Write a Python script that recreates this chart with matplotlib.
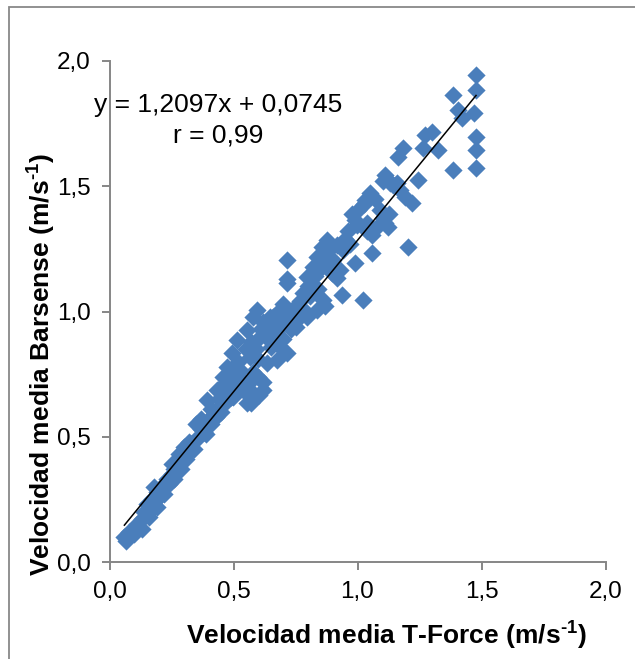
import matplotlib
matplotlib.use("Agg")
import matplotlib.pyplot as plt
import numpy as np
from matplotlib.patches import Rectangle

plt.rcParams['font.family'] = ['Liberation Sans', 'DejaVu Sans']
plt.rcParams['mathtext.fontset'] = 'custom'
plt.rcParams['mathtext.rm'] = 'Liberation Sans'
plt.rcParams['mathtext.bf'] = 'Liberation Sans:bold'

# (T-Force, Barsense) mean velocity pairs
points = [
    # low band
    (0.06,0.10),(0.065,0.085),(0.08,0.12),(0.10,0.11),(0.11,0.15),(0.12,0.14),(0.13,0.13),(0.13,0.17),
    (0.14,0.20),(0.15,0.19),(0.15,0.23),(0.16,0.18),(0.17,0.21),(0.17,0.25),(0.18,0.24),(0.18,0.30),
    (0.19,0.22),(0.19,0.28),(0.20,0.26),(0.21,0.29),(0.22,0.27),(0.22,0.31),(0.23,0.33),(0.24,0.31),
    (0.25,0.35),(0.25,0.39),(0.26,0.33),(0.26,0.37),(0.27,0.36),(0.28,0.40),(0.28,0.43),(0.29,0.37),
    (0.30,0.42),(0.30,0.46),(0.31,0.41),(0.32,0.44),(0.32,0.48),(0.33,0.47),(0.34,0.45),(0.35,0.49),
    (0.35,0.55),(0.36,0.50),(0.37,0.53),(0.37,0.57),(0.38,0.52),(0.39,0.51),(0.40,0.57),(0.41,0.55),
    (0.41,0.61),(0.42,0.59),(0.43,0.58),(0.44,0.62),(0.44,0.65),(0.45,0.60),(0.46,0.68),(0.47,0.64),
    (0.47,0.72),(0.48,0.70),(0.49,0.66),(0.50,0.75),(0.50,0.69),
    # middle
    (0.432,0.687),(0.392,0.647),(0.459,0.740),(0.473,0.780),(0.493,0.833),(0.499,0.660),(0.513,0.886),
    (0.526,0.766),(0.540,0.727),(0.540,0.687),(0.553,0.926),(0.553,0.634),(0.567,0.820),(0.571,0.633),
    (0.580,0.979),(0.580,0.673),(0.593,1.006),(0.600,0.740),(0.604,0.666),(0.607,0.899),(0.620,0.687),
    (0.634,0.793),(0.647,0.979),(0.674,0.806),(0.688,0.859),(0.701,0.953),(0.714,0.833),(0.714,1.112),
    (0.717,1.206),(0.717,1.129),(0.755,0.966),(0.781,1.073),(0.795,0.979),(0.835,1.006),
    (0.52,0.80),(0.55,0.85),(0.57,0.88),(0.59,0.85),(0.61,0.93),(0.62,0.96),(0.63,0.90),(0.64,0.94),
    (0.65,0.86),(0.66,0.98),(0.67,0.92),(0.68,1.00),(0.69,0.96),(0.70,1.03),(0.70,0.89),(0.72,0.98),
    (0.73,0.93),(0.74,1.01),(0.75,0.94),(0.76,1.00),(0.77,1.04),(0.78,1.01),(0.80,1.10),(0.81,1.06),
    (0.83,1.14),(0.84,1.09),(0.85,1.17),(0.86,1.20),(0.88,1.24),(0.89,1.19),(0.66,0.90),(0.60,0.81),
    (0.58,0.76),(0.56,0.71),(0.51,0.72),(0.62,0.72),
    # upper middle
    (0.795,1.139),(0.808,1.106),(0.822,1.179),(0.835,1.219),(0.856,1.259),(0.876,1.285),(0.896,1.152),
    (0.902,1.206),(0.916,1.265),(0.916,1.133),(0.929,1.166),(0.943,1.245),(0.862,1.046),(0.869,1.022),
    (0.936,1.066),(0.990,1.192),(1.023,1.046),(1.057,1.232),(0.95,1.29),(0.96,1.32),(0.97,1.27),
    # upper
    (0.979,1.388),(0.990,1.365),(1.003,1.405),(1.028,1.43),(1.030,1.445),(1.050,1.472),(1.037,1.352),
    (0.997,1.345),(1.037,1.32),(1.057,1.305),(1.077,1.339),(1.091,1.405),(1.104,1.372),(1.110,1.354),
    (1.124,1.339),(1.126,1.388),(1.111,1.545),(1.131,1.512),(1.102,1.522),(1.124,1.525),(1.143,1.505),
    (1.158,1.512),(1.171,1.485),(1.192,1.458),(1.219,1.432),(1.245,1.525),(1.205,1.259),(1.07,1.45),
    (1.165,1.618),(1.185,1.651),(1.265,1.651),(1.272,1.705),(1.299,1.718),(1.326,1.645),(1.386,1.563),
    (1.386,1.864),(1.406,1.804),(1.420,1.771),(1.470,1.794),(1.478,1.944),(1.478,1.884),(1.478,1.695),
    (1.478,1.645),(1.478,1.572),
]
vel_tforce = [p[0] for p in points]
vel_barsense = [p[1] for p in points]

slope = 1.2097
intercept = 0.0745
eq_text = "y = 1,2097x + 0,0745"
r_text = "r = 0,99"
ticks = [0.0, 0.5, 1.0, 1.5, 2.0]
tick_labels = ["0,0", "0,5", "1,0", "1,5", "2,0"]

fig = plt.figure(figsize=(6.35, 6.59), dpi=100)
ax = fig.add_axes([109.5/635, 1-562/659, 496/635, 501/659])

ax.scatter(vel_tforce, vel_barsense, marker='D', s=86, color='#4A7EBB', linewidths=0, zorder=2)
xl = np.array([min(vel_tforce), max(vel_tforce)])
ax.plot(xl, slope*xl + intercept, color='black', lw=1.1, zorder=3)

ax.set_xlim(0, 2)
ax.set_ylim(0, 2)
ax.set_xticks(ticks)
ax.set_xticklabels(tick_labels)
ax.set_yticks(ticks)
ax.set_yticklabels(tick_labels)
for s in ['top', 'right']:
    ax.spines[s].set_visible(False)
for s in ['left', 'bottom']:
    ax.spines[s].set_color('#868686')
    ax.spines[s].set_linewidth(1.4)
ax.tick_params(direction='out', length=5.5, width=1.4, color='#868686', labelsize=17.5, pad=8)

ax.text(0.219, 0.912, eq_text, transform=ax.transAxes, ha='center', va='center', fontsize=19)
ax.text(0.219, 0.852, r_text, transform=ax.transAxes, ha='center', va='center', fontsize=19)

fig.text(386/635, 1-634.7/659, 'Velocidad media T-Force (m/s$^{\\mathbf{\u2010 1}}$)', ha='center', va='center',
         fontsize=19, fontweight='bold')
fig.text(40.5/635, 1-364.5/659, 'Velocidad media Barsense (m/s$^{\\mathbf{\u2010 1}}$)', ha='center', va='center',
         fontsize=19, fontweight='bold', rotation=90)

fig.patches.append(Rectangle((9/635, -0.1), 1.2, 1-7/659+0.1, transform=fig.transFigure,
                             fill=False, edgecolor='#888888', lw=1.3))

fig.savefig('out.png', dpi=100)
